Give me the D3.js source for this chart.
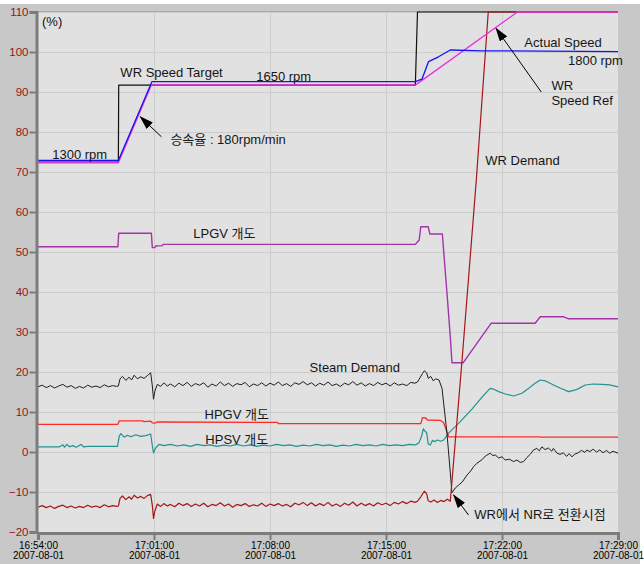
<!DOCTYPE html>
<html>
<head>
<meta charset="utf-8">
<script src="https://cdn.jsdelivr.net/npm/d3@7"></script>
<style>
  body { margin: 0; background: #fff; }
  text { font-family: "Liberation Sans", Arial, "Noto Sans CJK KR", sans-serif; }
</style>
</head>
<body>
<svg id="chart" width="644" height="564"></svg>
<script>
// time is in minutes after 16:54:00, values in %
let tick_minutes = [0, 7, 14, 21, 28, 35],
  tick_times = ["16:54:00", "17:01:00", "17:08:00", "17:15:00", "17:22:00", "17:29:00"],
  tick_date = "2007-08-01",
  y_ticks = [-20, -10, 0, 10, 20, 30, 40, 50, 60, 70, 80, 90, 100, 110];

let wr_speed_target = [[0, 72.5], [4.85, 72.5], [4.87, 91.7], [22.77, 91.7], [22.9, 110], [35, 110]];

let wr_speed_ref = [[0, 72.3], [4.85, 72.3], [6.84, 91.75], [22.77, 91.75], [23.07, 92.6], [28.93, 110], [35, 110]];

let actual_speed = [[0, 72.9], [4.85, 72.9], [6.88, 92.6], [22.77, 92.6], [23.17, 93.2], [23.57, 97.6],
  [24.17, 98.8], [24.88, 100.5], [26.79, 100.3], [35, 100.1]];

let lpgv = [[0, 51.3], [4.82, 51.3], [4.87, 54.7], [6.84, 54.7], [6.9, 51.1], [7.05, 51.1], [7.1, 51.5],
  [7.5, 51.6], [7.55, 51.9], [22.77, 51.9], [23.0, 53.0], [23.1, 56.3], [23.55, 56.3], [23.65, 54.5],
  [24.4, 54.5], [24.68, 39.7], [24.88, 28.8], [24.98, 22.3], [25.65, 22.3], [27.35, 32.2], [30.0, 32.2],
  [30.31, 33.8], [31.72, 33.8], [32.02, 33.3], [35, 33.3]];

let hpgv = [[0, 6.9], [4.82, 6.9], [4.9, 7.8], [6.3, 7.8], [6.4, 7.6], [6.8, 7.7], [6.9, 7.3], [7.05, 7.2],
  [7.2, 7.5], [14.45, 7.4], [14.5, 7.1], [23.1, 7.1], [23.2, 8.6], [23.4, 8.5], [23.5, 8.0], [24.3, 7.9],
  [24.48, 7.3], [24.78, 3.8], [30.3, 3.8], [30.35, 3.7], [35, 3.7]];

let hpsv = [[0, 1.3], [1.3, 1.3], [1.5, 1.8], [1.6, 1.2], [1.75, 1.9], [1.9, 1.3], [2.1, 1.6], [2.3, 1.2],
  [2.6, 1.9], [2.75, 1.3], [3.0, 1.4], [4.8, 1.4], [4.9, 3.9], [5.0, 4.6], [5.2, 3.7], [5.4, 4.2],
  [5.6, 3.8], [5.9, 4.3], [6.2, 3.9], [6.5, 4.1], [6.8, 4.5], [6.9, 1.5], [6.97, -0.2], [7.1, 1.0],
  [7.3, 1.9], [7.6, 1.6], [8.0, 1.9], [8.4, 1.5], [8.8, 1.8], [9.2, 1.4], [9.6, 1.9], [10.0, 1.6],
  [10.4, 1.8], [10.8, 1.4], [11.2, 1.7], [11.6, 1.5], [12.0, 1.9], [12.4, 1.5], [12.8, 1.8], [13.2, 1.4],
  [13.6, 1.7], [14.0, 1.5], [14.4, 1.9], [14.8, 1.6], [15.2, 1.8], [15.6, 1.4], [16.0, 1.7], [16.4, 1.5],
  [16.8, 1.9], [17.2, 1.6], [17.6, 1.8], [18.0, 1.4], [18.4, 1.7], [18.8, 1.5], [19.2, 1.9], [19.6, 1.6],
  [20.0, 1.8], [20.4, 1.5], [20.8, 1.9], [21.2, 1.6], [21.6, 1.8], [22.0, 1.6], [22.4, 1.9], [22.8, 1.8],
  [23.0, 2.4], [23.15, 4.0], [23.25, 5.8], [23.35, 5.2], [23.45, 4.9], [23.55, 2.0], [23.67, 1.75],
  [23.8, 2.9], [23.95, 2.6], [24.1, 3.0], [24.3, 2.7], [24.48, 3.0], [24.78, 4.7], [25.48, 7.6],
  [26.2, 10.8], [26.9, 14.2], [27.29, 15.9], [27.5, 15.7], [27.8, 15.1], [28.2, 14.5], [28.7, 14.0],
  [29.2, 14.7], [29.6, 15.9], [30.0, 17.2], [30.31, 18.0], [30.6, 17.8], [31.11, 16.75], [31.5, 16.0],
  [32.02, 15.1], [32.5, 15.6], [33.03, 16.75], [33.5, 17.0], [34.0, 16.9], [34.5, 16.8], [35, 16.3]];

let steam_demand = [[0, 16.3], [0.25, 16.7], [0.5, 16.1], [0.75, 16.6], [1.0, 16.0], [1.25, 16.5],
  [1.5, 16.9], [1.75, 16.2], [2.0, 16.6], [2.25, 15.9], [2.5, 16.4], [2.75, 16.0], [3.0, 16.7],
  [3.25, 16.2], [3.5, 16.5], [3.75, 16.1], [4.0, 16.8], [4.25, 16.3], [4.5, 16.6], [4.75, 16.4],
  [4.85, 16.5], [4.95, 18.3], [5.1, 18.9], [5.3, 17.9], [5.5, 18.7], [5.65, 18.0], [5.8, 19.2],
  [6.0, 18.3], [6.2, 18.8], [6.4, 18.4], [6.6, 19.1], [6.8, 19.8], [6.9, 16.5], [6.97, 13.2],
  [7.05, 15.2], [7.2, 16.9], [7.4, 16.4], [7.6, 17.3], [7.8, 16.5], [8.0, 17.0], [8.25, 16.3],
  [8.5, 17.2], [8.75, 16.6], [9.0, 17.4], [9.25, 16.4], [9.5, 17.1], [9.75, 16.7], [10.0, 17.3],
  [10.25, 16.2], [10.5, 17.0], [10.75, 16.5], [11.0, 17.5], [11.25, 16.6], [11.5, 17.2], [11.75, 16.4],
  [12.0, 17.1], [12.25, 16.8], [12.5, 17.4], [12.75, 16.3], [13.0, 17.0], [13.25, 16.6], [13.5, 17.3],
  [13.75, 16.5], [14.0, 17.2], [14.25, 16.7], [14.5, 17.5], [14.75, 16.6], [15.0, 17.1], [15.25, 16.4],
  [15.5, 17.3], [15.75, 16.9], [16.0, 17.6], [16.25, 16.8], [16.5, 17.3], [16.75, 16.5], [17.0, 17.2],
  [17.25, 16.7], [17.5, 17.5], [17.75, 16.6], [18.0, 17.0], [18.25, 16.4], [18.5, 17.2], [18.75, 16.8],
  [19.0, 17.6], [19.25, 16.7], [19.5, 17.3], [19.75, 16.5], [20.0, 17.1], [20.25, 16.6], [20.5, 17.4],
  [20.75, 16.8], [21.0, 17.2], [21.25, 16.5], [21.5, 17.3], [21.75, 16.7], [22.0, 17.0], [22.25, 16.6],
  [22.5, 17.4], [22.75, 17.2], [22.9, 17.5], [23.0, 18.2], [23.2, 19.6], [23.31, 20.3], [23.45, 19.8],
  [23.55, 18.4], [23.7, 18.9], [23.85, 17.8], [24.0, 18.3], [24.2, 18.0], [24.38, 15.9], [24.68, 4.7],
  [24.98, -10.2], [25.18, -9.0], [25.4, -8.2], [25.6, -7.5], [25.89, -5.75], [26.1, -4.8], [26.3, -3.6],
  [26.49, -2.8], [26.8, -1.9], [27.0, -1.0], [27.29, -0.3], [27.45, -0.9], [27.6, -0.75], [27.8, -1.5],
  [28.0, -1.2], [28.2, -2.0], [28.45, -1.8], [28.7, -2.4], [28.9, -2.0], [29.1, -2.6], [29.3, -2.4],
  [29.5, -1.4], [29.7, -0.6], [29.9, 0.5], [30.1, 0.9], [30.25, 0.3], [30.41, 1.3], [30.6, 0.6],
  [30.8, 1.0], [31.0, 0.2], [31.1, 0.9], [31.32, -0.3], [31.5, -0.6], [31.7, -0.2], [31.9, -1.1],
  [32.05, -0.4], [32.22, -1.2], [32.4, -0.5], [32.6, -0.2], [32.8, 0.4], [33.0, -0.1], [33.12, 0.5],
  [33.3, 0.1], [33.5, 0.7], [33.7, 0.0], [33.9, 0.5], [34.1, -0.2], [34.3, 0.4], [34.5, -0.3],
  [34.7, 0.2], [35, -0.3]];

let wr_demand = [[0, -13.8], [0.25, -13.4], [0.5, -13.9], [0.75, -13.5], [1.0, -14.1], [1.25, -13.6],
  [1.5, -13.3], [1.75, -13.9], [2.0, -13.5], [2.25, -14.0], [2.5, -13.6], [2.75, -13.9], [3.0, -13.3],
  [3.25, -13.8], [3.5, -13.5], [3.75, -13.9], [4.0, -13.2], [4.25, -13.7], [4.5, -13.4], [4.75, -13.6],
  [4.85, -13.5], [4.95, -11.6], [5.1, -11.0], [5.3, -11.9], [5.5, -11.2], [5.65, -11.8], [5.8, -10.8],
  [6.0, -11.5], [6.2, -11.1], [6.4, -11.6], [6.6, -10.9], [6.8, -10.6], [6.9, -13.4], [6.97, -16.6],
  [7.05, -14.8], [7.2, -13.0], [7.4, -13.6], [7.6, -12.9], [7.8, -13.5], [8.0, -13.1], [8.25, -13.7],
  [8.5, -12.8], [8.75, -13.4], [9.0, -12.9], [9.25, -13.6], [9.5, -13.0], [9.75, -13.5], [10.0, -12.8],
  [10.25, -13.7], [10.5, -13.1], [10.75, -13.4], [11.0, -12.7], [11.25, -13.5], [11.5, -13.0],
  [11.75, -13.8], [12.0, -13.1], [12.25, -13.4], [12.5, -12.9], [12.75, -13.6], [13.0, -13.2],
  [13.25, -13.5], [13.5, -12.8], [13.75, -13.6], [14.0, -13.0], [14.25, -13.4], [14.5, -12.9],
  [14.75, -13.5], [15.0, -13.1], [15.25, -13.7], [15.5, -12.8], [15.75, -13.2], [16.0, -12.6],
  [16.25, -13.4], [16.5, -12.7], [16.75, -13.5], [17.0, -12.9], [17.25, -13.4], [17.5, -12.6],
  [17.75, -13.5], [18.0, -13.0], [18.25, -13.6], [18.5, -12.8], [18.75, -13.3], [19.0, -12.5],
  [19.25, -13.5], [19.5, -12.8], [19.75, -13.4], [20.0, -12.9], [20.25, -13.5], [20.5, -12.7],
  [20.75, -13.2], [21.0, -12.8], [21.25, -13.4], [21.5, -12.6], [21.75, -13.0], [22.0, -12.4],
  [22.25, -12.9], [22.5, -12.3], [22.75, -12.6], [22.9, -12.3], [23.1, -11.2], [23.31, -9.8],
  [23.45, -10.4], [23.55, -12.2], [23.7, -12.5], [23.9, -12.0], [24.1, -12.6], [24.3, -12.1],
  [24.5, -12.4], [24.7, -11.8], [24.88, -12.3], [25.59, 23], [26.45, 68], [27.17, 110], [35, 110]];

let width = 644,
  height = 564,
  margins = {left: 38, right: 26, top: 12, bottom: 32},
  start = new Date(2007, 7, 1, 16, 54, 0);

function to_date(m) {
  return new Date(start.getTime() + m * 60000)
}

function make_scales() {
  return {
    x: d3.scaleTime()
      .domain([to_date(0), to_date(35)])
      .range([margins.left, width - margins.right]),
    y: d3.scaleLinear()
      .domain([-20, 110])
      .range([height - margins.bottom, margins.top])
  }
}

function frame(svg, scales) {
  svg.append("rect").attr("x", 0).attr("y", 4).attr("width", 640).attr("height", height - 4)
    .attr("fill", "#c8c8c8")
  svg.append("rect")
    .attr("x", margins.left).attr("y", margins.top)
    .attr("width", width - margins.left - margins.right)
    .attr("height", height - margins.top - margins.bottom)
    .attr("fill", "#e1e1e1")

  let grid = svg.append("g").attr("stroke", "#cdcdcd").attr("stroke-width", 1)
  grid.selectAll("line.h").data(y_ticks).enter().append("line")
    .attr("x1", margins.left).attr("x2", width - margins.right)
    .attr("y1", d => Math.round(scales.y(d)) + 0.5).attr("y2", d => Math.round(scales.y(d)) + 0.5)
  grid.selectAll("line.v").data(tick_minutes.slice(1, -1)).enter().append("line")
    .attr("y1", margins.top).attr("y2", height - margins.bottom)
    .attr("x1", d => Math.round(scales.x(to_date(d))) + 0.5)
    .attr("x2", d => Math.round(scales.x(to_date(d))) + 0.5)
  svg.append("line")
    .attr("x1", margins.left).attr("x2", width - margins.right)
    .attr("y1", margins.top - 0.5).attr("y2", margins.top - 0.5)
    .attr("stroke", "#a8a8a8")
}

function axes(svg, scales) {
  let y_axis = svg.append("g")
    .attr("transform", `translate(${margins.left - 1.5}, 0)`)
    .call(d3.axisLeft(scales.y).tickValues(y_ticks).tickSize(7).tickPadding(1))
  y_axis.select(".domain").attr("stroke", "#7c7c7c").attr("stroke-width", 3)
  y_axis.selectAll(".tick line").attr("stroke", "#7c7c7c").attr("stroke-width", 2)
  y_axis.selectAll(".tick text")
    .attr("fill", "#9a1414")
    .attr("font-size", "11.5px")
    .attr("font-family", "Liberation Sans, Arial, sans-serif")

  let x_axis = svg.append("g")
    .attr("transform", `translate(0, ${height - margins.bottom + 1})`)
    .call(d3.axisBottom(scales.x).tickValues(tick_minutes.map(to_date)).tickSize(7).tickFormat(""))
  x_axis.select(".domain").attr("stroke", "#7c7c7c").attr("stroke-width", 3)
  x_axis.selectAll(".tick line").attr("stroke", "#7c7c7c").attr("stroke-width", 2)

  let labels = x_axis.selectAll(".tick").append("text")
    .attr("fill", "#000")
    .attr("font-size", "10px")
    .attr("text-anchor", "middle")
  labels.each(function (d, i) {
    let t = d3.select(this)
    t.append("tspan").attr("x", 0).attr("y", 15.5).text(tick_times[i])
    t.append("tspan").attr("x", 0).attr("y", 25.5).text(tick_date)
  })
}

function series(svg, scales) {
  let lines = [
    {values: wr_speed_target, color: "#101010", w: 1.2},
    {values: lpgv, color: "#a434a8", w: 1.4},
    {values: hpsv, color: "#219191", w: 1.2},
    {values: hpgv, color: "#ff2a2a", w: 1.3},
    {values: steam_demand, color: "#1e1e1e", w: 1},
    {values: wr_demand, color: "#a51616", w: 1.2},
    {values: wr_speed_ref, color: "#ec2ce0", w: 1.3},
    {values: actual_speed, color: "#1414f0", w: 1.3}
  ]
  let line = d3.line()
    .x(d => scales.x(to_date(d[0])))
    .y(d => scales.y(d[1]))

  svg.append("g").selectAll("path")
    .data(lines).enter()
    .append("path")
    .attr("d", d => line(d.values))
    .attr("fill", "none")
    .attr("stroke", d => d.color)
    .attr("stroke-width", d => d.w)
    .attr("stroke-linejoin", "round")
}

function annotations(svg, scales) {
  let px = (t, v) => [scales.x(to_date(t)), scales.y(v)]

  svg.append("defs").append("marker")
    .attr("id", "head")
    .attr("markerUnits", "userSpaceOnUse")
    .attr("markerWidth", 14).attr("markerHeight", 9)
    .attr("refX", 13).attr("refY", 4.5)
    .attr("orient", "auto")
    .append("path").attr("d", "M0,0 L14,4.5 L0,9 Z").attr("fill", "#000")

  svg.append("text").text("(%)")
    .attr("x", margins.left + 4).attr("y", margins.top + 14)
    .attr("font-size", "13px").attr("fill", "#111")

  let notes = [
    {text: "1300 rpm", t: 0.86, v: 73.25},
    {text: "WR Speed Target", t: 4.97, v: 93.75},
    {text: "1650 rpm", t: 13.17, v: 92.75},
    {text: "승속율 : 180rpm/min", t: 7.99, v: 77},
    {text: "Actual Speed", t: 29.35, v: 101.25},
    {text: "1800 rpm", t: 31.98, v: 96.75},
    {text: "WR", t: 30.98, v: 90.5},
    {text: "Speed Ref", t: 30.98, v: 86.75},
    {text: "WR Demand", t: 26.99, v: 71.75},
    {text: "LPGV 개도", t: 9.37, v: 53.5},
    {text: "Steam Demand", t: 16.39, v: 20},
    {text: "HPGV 개도", t: 10.05, v: 8.25},
    {text: "HPSV 개도", t: 10.1, v: 2},
    {text: "WR에서 NR로 전환시점", t: 26.33, v: -16.75}
  ]
  svg.append("g").selectAll("text")
    .data(notes).enter()
    .append("text")
    .text(d => d.text)
    .attr("x", d => px(d.t, d.v)[0])
    .attr("y", d => px(d.t, d.v)[1])
    .attr("font-size", "13px")
    .attr("fill", "#161616")

  let arrows = [
    {from: [7.45, 78.8], to: [6.17, 83.8]},
    {from: [30.37, 90], to: [27.64, 105.9]},
    {from: [25.98, -15.75], to: [25.08, -10.75]}
  ]
  svg.append("g").selectAll("line")
    .data(arrows).enter()
    .append("line")
    .attr("x1", d => px(...d.from)[0]).attr("y1", d => px(...d.from)[1])
    .attr("x2", d => px(...d.to)[0]).attr("y2", d => px(...d.to)[1])
    .attr("stroke", "#000").attr("stroke-width", 1)
    .attr("marker-end", "url(#head)")
}

let svg = d3.select("#chart"),
  scales = make_scales();
frame(svg, scales)
series(svg, scales)
axes(svg, scales)
annotations(svg, scales)
</script>
</body>
</html>
